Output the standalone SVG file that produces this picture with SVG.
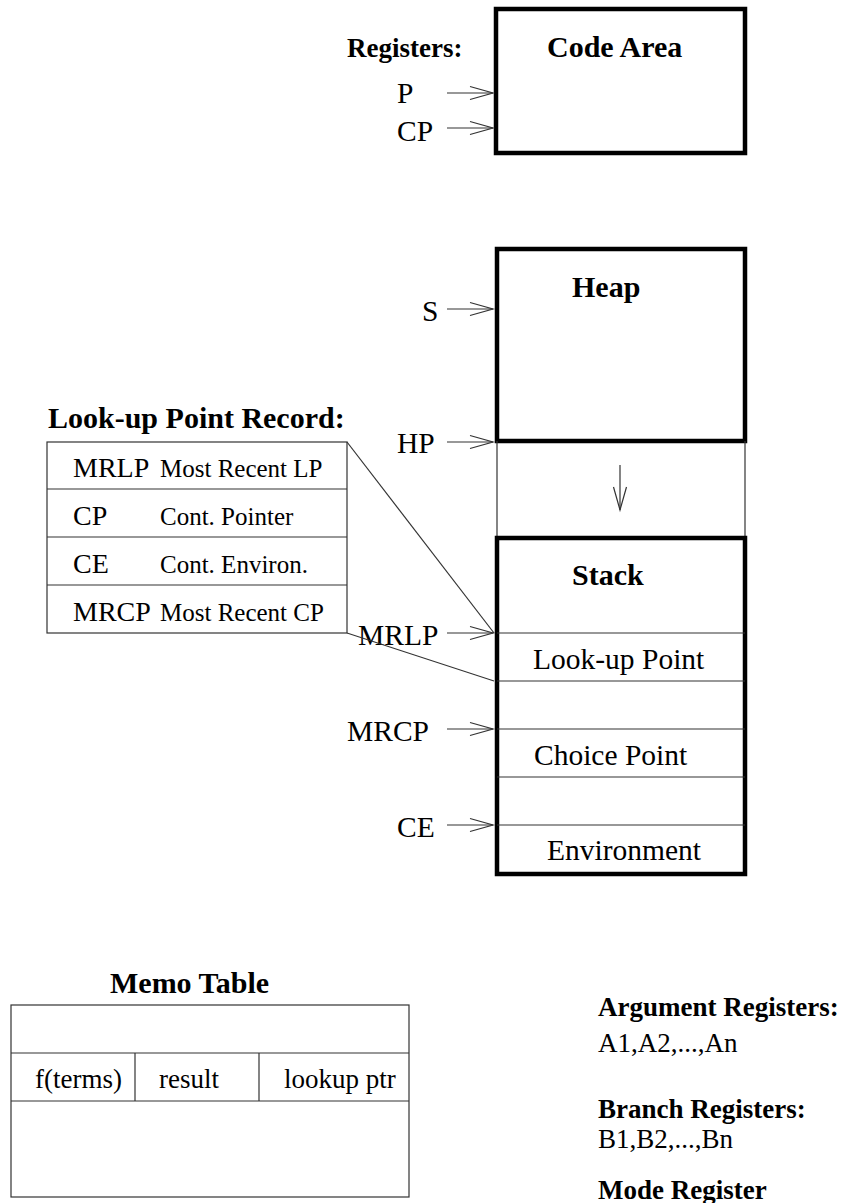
<svg xmlns="http://www.w3.org/2000/svg" width="844" height="1203" viewBox="0 0 844 1203">
  <style>
    text { font-family: "Liberation Serif", "Times New Roman", serif; fill: #000; }
    .b { font-weight: bold; font-size: 30px; }
    .l { font-size: 29.5px; }
    .r { font-size: 28px; }
    .d { font-size: 25px; }
    .thick { fill: none; stroke: #000; stroke-width: 4.5; }
    .thin { fill: none; stroke: #333; stroke-width: 1.2; }
    .arr { fill: none; stroke: #333; stroke-width: 1.2; marker-end: url(#head); }
  </style>
  <defs>
    <marker id="head" markerUnits="userSpaceOnUse" orient="auto" refX="0" refY="0" markerWidth="30" markerHeight="20" viewBox="-25 -10 30 20" overflow="visible">
      <path d="M-23,-6.5 L0,0 L-23,6.5" fill="none" stroke="#333" stroke-width="1.2"/>
    </marker>
  </defs>
  <rect width="844" height="1203" fill="#fff"/>

  <g id="code-area">
    <rect class="thick" x="496" y="9" width="249" height="144"/>
    <text class="b" x="547" y="57">Code Area</text>
  </g>

  <g id="registers">
    <text class="b" x="347" y="57" style="font-size:27px">Registers:</text>
    <text class="l" x="397" y="103">P</text>
    <text class="l" x="397" y="141">CP</text>
  </g>

  <g id="heap">
    <rect class="thick" x="497" y="249" width="248" height="192"/>
    <text class="b" x="572" y="297">Heap</text>
    <text class="l" x="422" y="321">S</text>
    <text class="l" x="397" y="453">HP</text>
  </g>

  <g id="free-space">
    <line class="thin" x1="497" y1="441" x2="497" y2="538"/>
    <line class="thin" x1="745" y1="441" x2="745" y2="538"/>
  </g>

  <g id="stack">
    <rect class="thick" x="497" y="538" width="248" height="336"/>
    <text class="b" x="572" y="585">Stack</text>
    <line class="thin" x1="497" y1="633" x2="745" y2="633"/>
    <line class="thin" x1="497" y1="681" x2="745" y2="681"/>
    <line class="thin" x1="497" y1="729" x2="745" y2="729"/>
    <line class="thin" x1="497" y1="777" x2="745" y2="777"/>
    <line class="thin" x1="497" y1="825" x2="745" y2="825"/>
    <text class="l" x="533" y="669">Look-up Point</text>
    <text class="l" x="534" y="765">Choice Point</text>
    <text class="l" x="547" y="860">Environment</text>
    <text class="l" x="358" y="645">MRLP</text>
    <text class="l" x="347" y="741">MRCP</text>
    <text class="l" x="397" y="837">CE</text>
  </g>

  <g id="lookup-record">
    <text class="b" x="48" y="428">Look-up Point Record:</text>
    <rect class="thin" x="47" y="442" width="300" height="191"/>
    <line class="thin" x1="47" y1="489" x2="347" y2="489"/>
    <line class="thin" x1="47" y1="537" x2="347" y2="537"/>
    <line class="thin" x1="47" y1="585" x2="347" y2="585"/>
    <text class="r" x="73" y="477">MRLP</text>
    <text class="d" x="160" y="477">Most Recent LP</text>
    <text class="r" x="73" y="525">CP</text>
    <text class="d" x="160" y="525">Cont. Pointer</text>
    <text class="r" x="73" y="573">CE</text>
    <text class="d" x="160" y="573">Cont. Environ.</text>
    <text class="r" x="73" y="621">MRCP</text>
    <text class="d" x="160" y="621">Most Recent CP</text>
  </g>

  <g id="memo-table">
    <text class="b" x="110" y="993">Memo Table</text>
    <rect class="thin" x="11" y="1005" width="398" height="192"/>
    <line class="thin" x1="11" y1="1053" x2="409" y2="1053"/>
    <line class="thin" x1="11" y1="1101" x2="409" y2="1101"/>
    <line class="thin" x1="135" y1="1053" x2="135" y2="1101"/>
    <line class="thin" x1="259" y1="1053" x2="259" y2="1101"/>
    <text x="35" y="1088" style="font-size:27px">f(terms)</text>
    <text x="159" y="1088" style="font-size:27px">result</text>
    <text x="284" y="1088" style="font-size:27px">lookup ptr</text>
  </g>

  <g id="other-registers">
    <text class="b" x="598" y="1016" style="font-size:27px">Argument Registers:</text>
    <text x="598" y="1052" style="font-size:27px">A1,A2,...,An</text>
    <text class="b" x="598" y="1118" style="font-size:27px">Branch Registers:</text>
    <text x="598" y="1148" style="font-size:27px">B1,B2,...,Bn</text>
    <text class="b" x="598" y="1199" style="font-size:27px">Mode Register</text>
  </g>

  <g id="connectors">
    <line class="arr" x1="447" y1="93" x2="493" y2="93"/>
    <line class="arr" x1="447" y1="128" x2="493" y2="128"/>
    <line class="arr" x1="447" y1="309" x2="493" y2="309"/>
    <line class="arr" x1="447" y1="442" x2="493" y2="442"/>
    <line class="arr" x1="620" y1="465" x2="620" y2="510"/>
    <line class="arr" x1="447" y1="633" x2="493" y2="633"/>
    <line class="arr" x1="447" y1="729" x2="493" y2="729"/>
    <line class="arr" x1="447" y1="825" x2="493" y2="825"/>
    <line class="thin" x1="347" y1="442" x2="494" y2="633"/>
    <line class="thin" x1="347" y1="633" x2="494" y2="681"/>
  </g>
</svg>
